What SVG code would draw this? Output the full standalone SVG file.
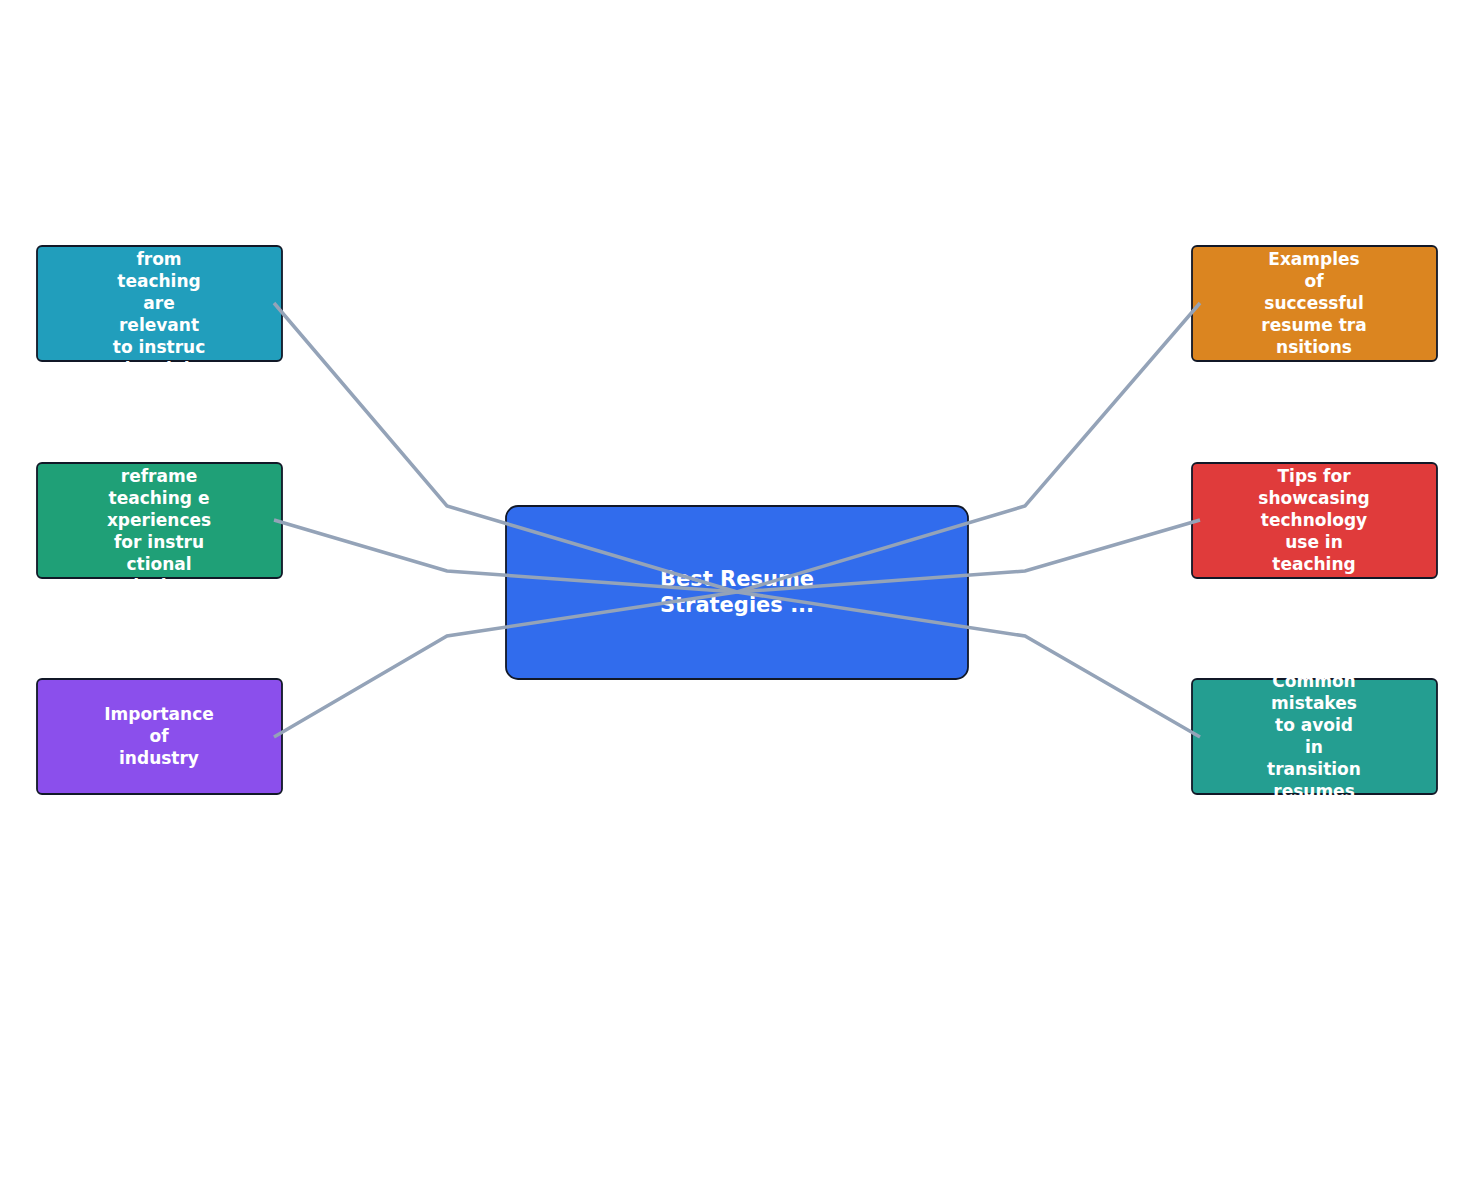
<svg xmlns="http://www.w3.org/2000/svg" width="1473" height="1185" viewBox="0 0 1473 1185">
<style>
.b{stroke:#111827;stroke-width:1.8}
.t{font-family:"DejaVu Sans",sans-serif;font-weight:bold;font-size:17px;fill:#fff;text-anchor:middle}
.c{font-family:"DejaVu Sans",sans-serif;font-weight:bold;font-size:21px;fill:#fff;text-anchor:middle}
.l{fill:none;stroke:#94a3b8;stroke-width:3.5}
</style>
<defs>
<clipPath id="cl1"><rect x="30" y="244" width="260" height="125"/></clipPath>
<clipPath id="cl2"><rect x="30" y="461" width="260" height="125"/></clipPath>
<clipPath id="cr3"><rect x="1185" y="677" width="260" height="121"/></clipPath>
</defs>
<rect width="1473" height="1185" fill="#fff"/>
<g id="center"><rect class="b" x="506" y="506" width="462" height="173" rx="12" fill="#316ced"/>
<text class="c" x="737" y="586">Best Resume</text><text class="c" x="737" y="612">Strategies ...</text></g>
<g id="n1"><rect class="b" x="37" y="246" width="245" height="115" rx="5" fill="#219ebc"/>
<g clip-path="url(#cl1)" class="t"><text x="159" y="265">from</text><text x="159" y="287">teaching</text><text x="159" y="309">are</text><text x="159" y="331">relevant</text><text x="159" y="353">to instruc</text><text x="159" y="375">tional de</text></g></g>
<g id="n2"><rect class="b" x="37" y="463" width="245" height="115" rx="5" fill="#1fa077"/>
<g clip-path="url(#cl2)" class="t"><text x="159" y="482">reframe</text><text x="159" y="504">teaching e</text><text x="159" y="526">xperiences</text><text x="159" y="548">for instru</text><text x="159" y="570">ctional</text><text x="159" y="592">design</text></g></g>
<g id="n3"><rect class="b" x="37" y="679" width="245" height="115" rx="5" fill="#8b4fec"/>
<g class="t"><text x="159" y="720">Importance</text><text x="159" y="742">of</text><text x="159" y="764">industry</text></g></g>
<g id="n4"><rect class="b" x="1192" y="246" width="245" height="115" rx="5" fill="#db8520"/>
<g class="t"><text x="1314" y="265">Examples</text><text x="1314" y="287">of</text><text x="1314" y="309">successful</text><text x="1314" y="331">resume tra</text><text x="1314" y="353">nsitions</text></g></g>
<g id="n5"><rect class="b" x="1192" y="463" width="245" height="115" rx="5" fill="#e03b3b"/>
<g class="t"><text x="1314" y="482">Tips for</text><text x="1314" y="504">showcasing</text><text x="1314" y="526">technology</text><text x="1314" y="548">use in</text><text x="1314" y="570">teaching</text></g></g>
<g id="n6"><rect class="b" x="1192" y="679" width="245" height="115" rx="5" fill="#249e91"/>
<g clip-path="url(#cr3)" class="t"><text x="1314" y="687">Common</text><text x="1314" y="709">mistakes</text><text x="1314" y="731">to avoid</text><text x="1314" y="753">in</text><text x="1314" y="775">transition</text><text x="1314" y="797">resumes</text></g></g>
<g id="connectors">
<polyline class="l" points="737,592 447,506 274,303"/>
<polyline class="l" points="737,592 447,571 274,520"/>
<polyline class="l" points="737,592 447,636 274,737"/>
<polyline class="l" points="737,592 1025,506 1200,303"/>
<polyline class="l" points="737,592 1025,571 1200,520"/>
<polyline class="l" points="737,592 1025,636 1200,737"/>
</g>
</svg>
